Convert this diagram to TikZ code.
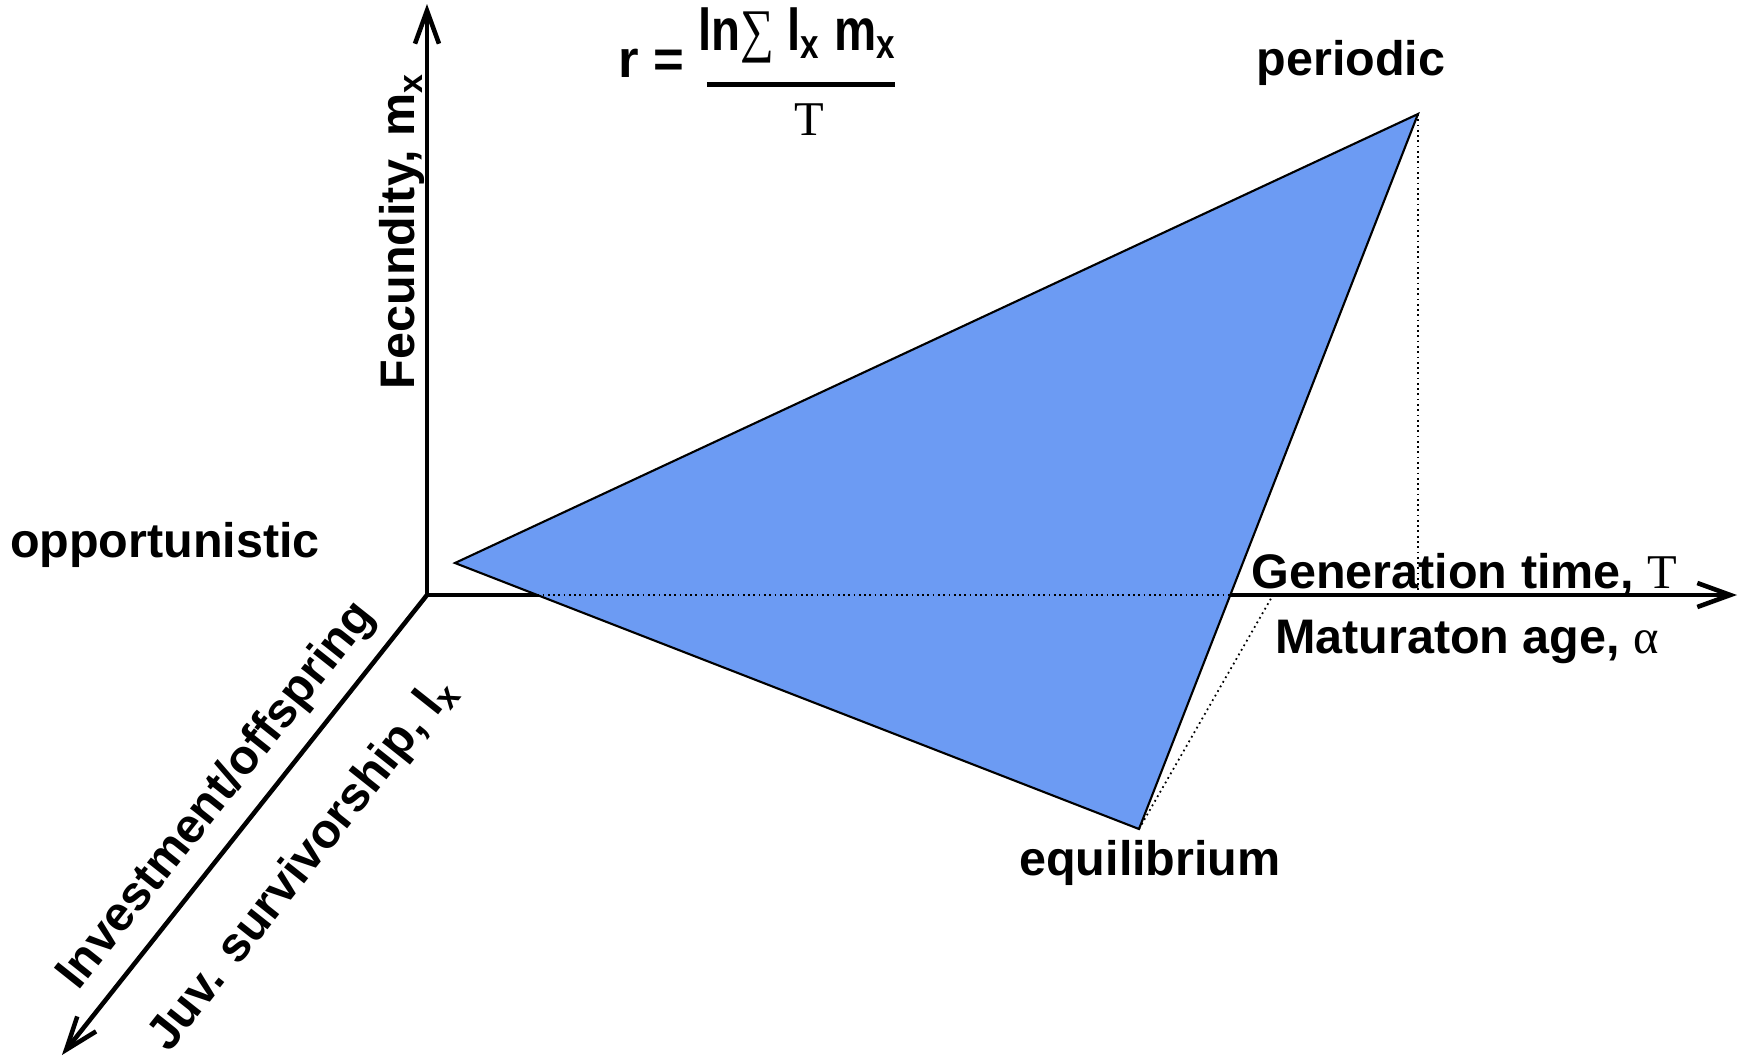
\documentclass[tikz,border=0pt]{standalone}
\usepackage{fontspec}
\setmainfont{Liberation Sans}
\newfontfamily\tnr{Liberation Serif}
\usetikzlibrary{arrows.meta, positioning}
\definecolor{triblue}{RGB}{108,155,243}

\begin{document}
\begin{tikzpicture}[
        >={Straight Barb[length=3.3mm, width=2.4mm]},
        axisarr/.style={->, line width=1.3pt},
        hidden/.style={densely dotted, line width=0.5pt},
        lbl/.style={font=\fontsize{13.8}{16}\selectfont\bfseries, inner sep=1pt},
        bigf/.style={font=\fontsize{15}{18}\selectfont\bfseries, inner sep=1pt},
      ]
        \useasboundingbox (-4.27,-4.63) rectangle (13.18,5.95);

        \coordinate (O) at (0,0);
        \coordinate (ytip) at (0,5.91);
        \coordinate (xtip) at (13.10,0);
        \coordinate (ztip) at (-3.65,-4.60);

        % axes
        \draw[axisarr] (O) -- (ytip);
        \draw[axisarr] (O) -- (xtip);
        \draw[axisarr] (O) -- (ztip)
          node[lbl, pos=0.49, sloped, above=3pt] (invest) {Investment/offspring}
          node[lbl, pos=0.49, sloped, below=12pt] (juv) {Juv. survivorship, l\textsubscript{x}};

        % strategy triangle
        \coordinate (opp) at (0.28,0.32);
        \coordinate (per) at (9.91,4.81);
        \coordinate (equ) at (7.12,-2.34);
        \fill[triblue] (opp) -- (per) -- (equ) -- cycle;
        \draw[line width=0.6pt] (opp) -- (per) -- (equ) -- cycle;

        % hidden lines
        \coordinate (h1) at (intersection of O--xtip and opp--equ);
        \coordinate (h2) at (intersection of O--xtip and per--equ);
        \coordinate (perfoot) at (per |- O);
        \coordinate (equfoot) at (8.46,0);
        \draw[hidden] (h1) -- (h2);
        \draw[hidden] (per) -- (perfoot);
        \draw[hidden] (equ) -- (equfoot);

        % labels
        \node[lbl, anchor=base] (periodic) at (9.24,5.20) {periodic};
        \node[lbl, anchor=base] (opportunistic) at (-2.62,0.38) {opportunistic};
        \node[lbl, anchor=base] (equilibrium) at (7.23,-2.80) {equilibrium};
        \node[lbl, anchor=base] (gentime) at (10.375,0.07) {Generation time, {\tnr\mdseries T}};
        \node[lbl, anchor=base] (matage) at (10.40,-0.58) {Maturaton age, {\tnr\mdseries α}};
        \node[lbl, anchor=base, rotate=90] (fecund) at (-0.12,3.64) {Fecundity, m\textsubscript{x}};

        % formula
        \node[bigf, anchor=base] (req) at (2.24,5.18) {r =};
        \node[bigf, anchor=base, xscale=0.9, yscale=1.12] (num) at (3.705,5.45) {ln{\tnr\mdseries ∑} l\textsubscript{x} m\textsubscript{x}};
        \node[bigf, anchor=base, font=\fontsize{13.8}{16}\selectfont] (den) at (3.82,4.60) {\tnr\mdseries T};
        \draw[line width=1.3pt] (2.80,5.105) -- (4.68,5.105);
      \end{tikzpicture}
\end{document}
